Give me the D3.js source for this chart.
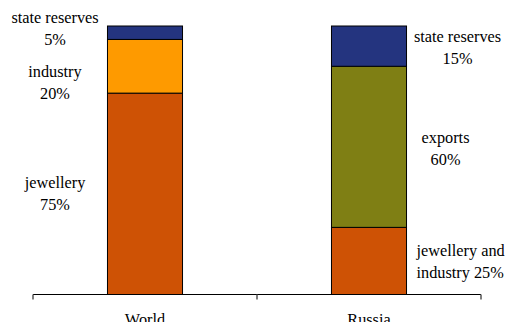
<!DOCTYPE html>
<html>
<head>
<meta charset="utf-8">
<script src="https://cdn.jsdelivr.net/npm/d3@7/dist/d3.min.js"></script>
<style>
  html, body { margin: 0; padding: 0; background: #fff; }
  svg { display: block; }
  text { font-family: "Liberation Serif", "Times New Roman", serif; font-size: 16.3px; fill: #000; }
</style>
</head>
<body>
<svg id="chart" width="507" height="322"></svg>
<script>
// Gold demand structure, percent shares
const categories = ["World", "Russia"];
const worldSegments = ["jewellery", "industry", "state reserves"];
const worldValues = [75, 20, 5];
const russiaSegments = ["jewellery and industry", "exports", "state reserves"];
const russiaValues = [25, 60, 15];
const worldLabels = [["jewellery", "75%"], ["industry", "20%"], ["state reserves", "5%"]];
const russiaLabels = [["jewellery and", "industry 25%"], ["exports", "60%"], ["state reserves", "15%"]];

const colorMap = {
  "jewellery": "#CE5205",
  "jewellery and industry": "#CE5205",
  "industry": "#FE9A00",
  "exports": "#7F7F14",
  "state reserves": "#24347F"
};

const svg = d3.select("#chart");
const axisY = 294.5;

const x = d3.scaleBand().domain(categories).range([33, 481]).padding(0);
const y = d3.scaleLinear().domain([0, 100]).range([axisY, 26]);
const barW = x.bandwidth() * 0.335;

function stackOf(names, values) {
  let acc = 0;
  return names.map((n, i) => {
    const s = { name: n, y0: acc, y1: acc + values[i] };
    acc += values[i];
    return s;
  });
}

const series = [
  { cat: "World", stack: stackOf(worldSegments, worldValues) },
  { cat: "Russia", stack: stackOf(russiaSegments, russiaValues) }
];

series.forEach(s => {
  const cx = x(s.cat) + x.bandwidth() / 2;
  svg.append("g").selectAll("rect")
    .data(s.stack)
    .join("rect")
    .attr("x", cx - barW / 2)
    .attr("y", d => y(d.y1))
    .attr("width", barW)
    .attr("height", d => y(d.y0) - y(d.y1))
    .attr("fill", d => colorMap[d.name])
    .attr("stroke", "#000")
    .attr("stroke-width", 1);
});

// Category axis with ticks at band boundaries
const axis = svg.append("g").attr("transform", `translate(0,${axisY})`);
axis.append("line")
  .attr("x1", x.range()[0]).attr("x2", x.range()[1])
  .attr("y1", 0).attr("y2", 0)
  .attr("stroke", "#000").attr("stroke-width", 1.2);
const edges = [x.range()[0], x(categories[1]), x.range()[1]];
axis.selectAll("line.tick").data(edges).join("line")
  .attr("class", "tick")
  .attr("x1", d => d).attr("x2", d => d)
  .attr("y1", 0).attr("y2", 5)
  .attr("stroke", "#555").attr("stroke-width", 1.5);
axis.selectAll("text.cat").data(categories).join("text")
  .attr("class", "cat")
  .attr("x", d => x(d) + x.bandwidth() / 2)
  .attr("y", 30)
  .attr("text-anchor", "middle")
  .text(d => d);

// Segment labels, two lines each, placed beside their segment
const lineGap = 22;
function drawLabels(stack, labels, xs, anchors, offsets) {
  stack.forEach((seg, i) => {
    const mid = y((seg.y0 + seg.y1) / 2);
    const t = svg.append("text").attr("text-anchor", anchors[i]);
    labels[i].forEach((line, j) => {
      t.append("tspan")
        .attr("x", xs[i])
        .attr("y", mid + offsets[i] + j * lineGap)
        .text(line);
    });
  });
}

drawLabels(series[0].stack, worldLabels, [55, 55, 55],
  ["middle", "middle", "middle"], [-6, 11, -10]);
const rx = x("Russia") + x.bandwidth() / 2 + barW / 2;
drawLabels(series[1].stack, russiaLabels, [rx + 10, rx + 39, rx + 51],
  ["start", "middle", "middle"], [-5, -4, -4]);
</script>
</body>
</html>
